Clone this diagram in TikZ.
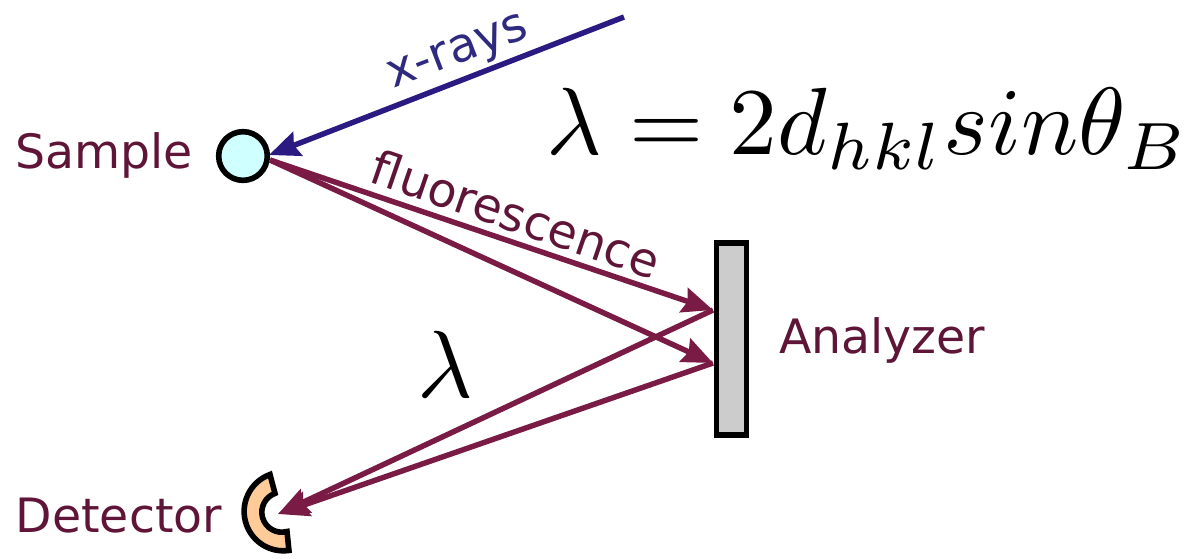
\documentclass[tikz,border=0pt]{standalone}
\usepackage{fontspec}
\newfontfamily\lblfont{DejaVu Sans}
\usetikzlibrary{arrows.meta}
\definecolor{maroonline}{HTML}{7A1B45}
\definecolor{maroontext}{HTML}{5F1537}
\definecolor{blueline}{HTML}{2A1A82}
\definecolor{bluetext}{HTML}{2F2A7F}
\definecolor{samplefill}{HTML}{CFFFFF}
\definecolor{detfill}{HTML}{FFCC99}
\definecolor{anafill}{HTML}{CCCCCC}
\tikzset{
  lbl/.style={text=maroontext,font=\lblfont\fontsize{35.5}{35.5}\selectfont,inner sep=0pt},
  beam/.style={maroonline,line width=4.1pt,-{Stealth[length=23pt,width=19pt,inset=3pt]}},
  xbeam/.style={blueline,line width=4.1pt,-{Stealth[length=23pt,width=19pt,inset=3pt]}},
  part/.style={draw=black,line width=4.2pt,line join=miter},
  mathlbl/.style={inner sep=0pt},
}
\begin{document}
\begin{tikzpicture}[x=0.75pt,y=-0.75pt]
\useasboundingbox (0,0) rectangle (1187,558);
% parts
\node[part,circle,fill=samplefill,minimum size=36.5pt,inner sep=0pt] (sample) at (243,156) {};
\node[part,rectangle,fill=anafill,minimum width=22.5pt,minimum height=144pt,inner sep=0pt] (analyzer) at (731.5,339) {};
\path[part,fill=detfill] (270,474.5) arc[start angle=110,end angle=278,radius=29.5pt] -- (287,531.5) arc[start angle=285,end angle=110,radius=15pt] -- cycle;
% anchors
\coordinate (xstart) at (624,17);
\coordinate (sampleIn) at (269,155);
\coordinate (sampleOut) at (270,160);
\coordinate (anaA) at (713,310);
\coordinate (anaB) at (713,363);
\coordinate (det) at (278,514);
% beams
\draw[xbeam] (xstart) -- (sampleIn);
\draw[beam] (sampleOut) -- (anaA);
\draw[beam] (sampleOut) -- (anaB);
\draw[beam] (anaA) -- (det);
\draw[beam] (anaB) -- (det);
% labels
\node[lbl] (samplelbl) at (104,155) {Sample};
\node[lbl] (analbl) at (882,340) {Analyzer};
\node[lbl] (detlbl) at (119,516) {Detector};
\node[lbl,text=bluetext,rotate=21] (xlbl) at (459,55) {x-rays};
\node[lbl,rotate=-19] (fllbl) at (516,214) {fluorescence};
\node[mathlbl] (formula) at (868,129) {\scalebox{7.16}{$\lambda = 2d_{hkl}sin\theta_{B}$}};
\node[mathlbl] (lam) at (445,364) {\scalebox{7.16}{$\lambda$}};
\end{tikzpicture}
\end{document}
